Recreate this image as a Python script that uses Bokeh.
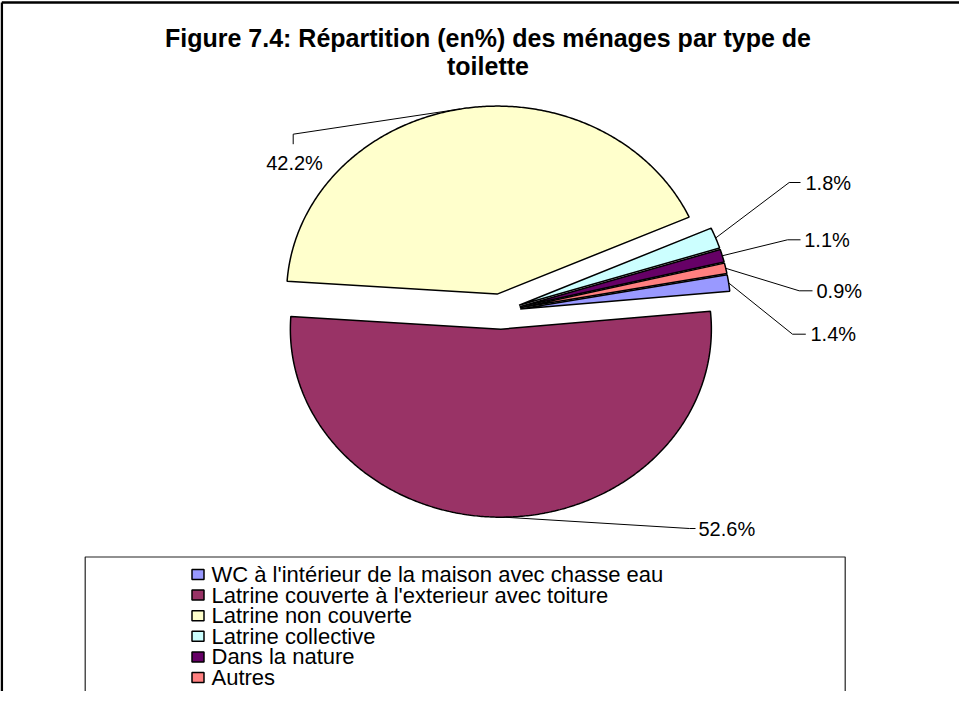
import math
from bokeh.plotting import figure
from bokeh.models import Range1d, ColumnDataSource
from bokeh.core.properties import value
from bokeh.embed import file_html
from bokeh.resources import INLINE

# ---------------- data ----------------
categories = [
    "WC à l'intérieur de la maison avec chasse eau",
    "Latrine couverte à l'exterieur avec toiture",
    "Latrine non couverte",
    "Latrine collective",
    "Dans la nature",
    "Autres",
]
values = [1.4, 52.6, 42.2, 1.8, 1.1, 0.9]
value_labels = ["1.4%", "52.6%", "42.2%", "1.8%", "1.1%", "0.9%"]
colors = ["#9999FF", "#993366", "#FFFFCC", "#CCFFFF", "#660066", "#FF8080"]
title_lines = ["Figure 7.4: Répartition (en%) des ménages par type de", "toilette"]

# ---------------- layout (page pixels) ----------------
W, H = 959, 691
SX, SY = 210.5, 188.0           # pixels per pie radius (x, y)
CXf, CYf = 500.1, 311.0         # pie centre in figure pixels
START_DEG = 10.5                # first slice starts here, slices run clockwise
EXPLODE = 0.094

def dx(px):
    return (px - 8 - CXf) / SX

def dy(py):
    return (CYf - (py - 8)) / SY

p = figure(width=W, height=H, output_backend="svg", toolbar_location=None,
           x_range=Range1d(-CXf / SX, (W - CXf) / SX),
           y_range=Range1d(-(H - CYf) / SY, CYf / SY),
           x_axis_location=None, y_axis_location=None, min_border=0)
p.grid.visible = False
p.outline_line_color = None
p.background_fill_color = "white"

# ---------------- pie slices ----------------
total = sum(values)
xs, ys, mids = [], [], []
a0 = START_DEG
for v in values:
    span = v / total * 360.0
    a1 = a0 - span
    mid = math.radians((a0 + a1) / 2)
    vx, vy = EXPLODE * math.cos(mid), EXPLODE * math.sin(mid)
    n = max(4, int(span * 2))
    px_, py_ = [vx], [vy]
    for k in range(n + 1):
        t = math.radians(a0 + (a1 - a0) * k / n)
        px_.append(vx + math.cos(t))
        py_.append(vy + math.sin(t))
    xs.append(px_)
    ys.append(py_)
    mids.append(mid)
    a0 = a1

p.patches(xs="xs", ys="ys", fill_color="color", line_color="black", line_width=1.5,
          source=ColumnDataSource(dict(xs=xs, ys=ys, color=colors)))

# ---------------- leader lines and value labels ----------------
# per slice: elbow point, line end, text anchor (page px), alignment
label_layout = [
    ((800.0, 341.7), (813.3, 341.7), (818.0, 341.7), "left"),
    ((697.0, 536.0), (703.0, 536.0), (706.0, 536.0), "left"),
    ((300.7, 141.7), (300.7, 151.7), (302.0, 170.0), "center"),
    ((796.7, 190.0), (808.0, 190.0), (813.0, 190.7), "left"),
    ((795.0, 247.3), (808.0, 247.3), (811.7, 247.3), "left"),
    ((806.7, 298.3), (820.0, 298.3), (824.0, 298.3), "left"),
]
lx, ly = [], []
for mid, (elb, end, _, _) in zip(mids, label_layout):
    r = 1.0 + EXPLODE
    lx.append([r * math.cos(mid), dx(elb[0]), dx(end[0])])
    ly.append([r * math.sin(mid), dy(elb[1]), dy(end[1])])
p.multi_line(xs=lx, ys=ly, line_color="black", line_width=1)

for lab, (_, _, txt, align) in zip(value_labels, label_layout):
    p.text(x=[dx(txt[0])], y=[dy(txt[1])], text=[lab], text_align=align,
           text_baseline="middle", text_font=value("Liberation Sans"),
           text_font_size="20px", text_color="black")

# ---------------- title ----------------
for line, ty in zip(title_lines, [45.8, 73.0]):
    p.text(x=[dx(495.5)], y=[dy(ty)], text=[line], text_align="center",
           text_baseline="middle", text_font=value("Liberation Sans"),
           text_font_style="bold", text_font_size="25px", text_color="black")

# ---------------- outer chart border ----------------
p.line(x=[dx(9.3), dx(9.3)], y=[dy(720), dy(10)], line_color="black", line_width=2.5)
p.line(x=[dx(9.3), dx(990)], y=[dy(10), dy(10)], line_color="black", line_width=2.5)

# ---------------- legend ----------------
p.quad(left=[dx(92.7)], right=[dx(852.7)], top=[dy(564.5)], bottom=[dy(730)],
       fill_color="white", line_color="#222222", line_width=1.2)
row_y = [582 + 20.6 * i for i in range(len(categories))]
p.rect(x=[dx(205.5)] * len(categories), y=[dy(r) for r in row_y],
       width=12, height=10, width_units="screen", height_units="screen",
       fill_color=colors, line_color="black", line_width=1.5)
p.text(x=[dx(219.0)] * len(categories), y=[dy(r) for r in row_y], text=categories,
       text_align="left", text_baseline="middle", text_font=value("Liberation Sans"),
       text_font_size="22px", text_color="black")

open("out.html", "w").write(file_html(p, INLINE))
